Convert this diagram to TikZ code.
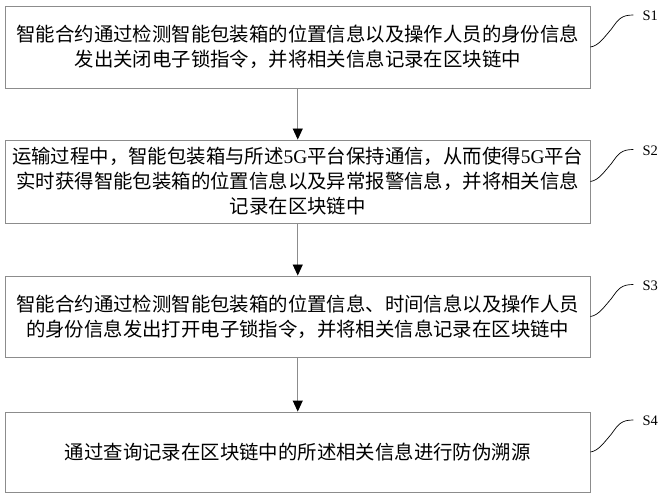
\documentclass[tikz,border=0pt]{standalone}
\usepackage{fontspec}
\newfontfamily\cjk{Noto Sans CJK SC}
\newfontfamily\lab{Liberation Serif}
\usetikzlibrary{arrows.meta}
\definecolor{boxgray}{RGB}{140,140,140}
\newcommand{\fiveg}{{\lab 5G}}
\tikzset{
  stepbox/.style={draw=boxgray, line width=0.9pt, minimum width=584.5pt, align=center,
    font=\cjk\fontsize{19.4pt}{25pt}\selectfont, inner sep=0pt, text=black},
  flow/.style={draw=boxgray, line width=0.9pt, -{Triangle[length=11pt,width=10pt,color=black]}},
  leader/.style={draw=black, line width=0.7pt},
  steplabel/.style={font=\lab\fontsize{14.5pt}{16pt}\selectfont, anchor=west, inner sep=0pt}
}
\begin{document}
\begin{tikzpicture}[x=1pt,y=-1pt]
\useasboundingbox (0,0) rectangle (665,500);
\node[stepbox, minimum height=82pt] (b1) at (297.75,47) {智能合约通过检测智能包装箱的位置信息以及操作人员的身份信息\\发出关闭电子锁指令，并将相关信息记录在区块链中};
\node[stepbox, minimum height=83pt] (b2) at (297.75,181.5) {运输过程中，智能包装箱与所述\fiveg 平台保持通信，从而使得\fiveg 平台\\实时获得智能包装箱的位置信息以及异常报警信息，并将相关信息\\记录在区块链中};
\node[stepbox, minimum height=81pt] (b3) at (297.75,316.5) {智能合约通过检测智能包装箱的位置信息、时间信息以及操作人员\\的身份信息发出打开电子锁指令，并将相关信息记录在区块链中};
\node[stepbox, minimum height=80pt] (b4) at (297.75,452) {通过查询记录在区块链中的所述相关信息进行防伪溯源};
\draw[flow] (b1.south) -- (b2.north);
\draw[flow] (b2.south) -- (b3.north);
\draw[flow] (b3.south) -- (b4.north);
\foreach \b/\s in {b1/S1,b2/S2,b3/S3,b4/S4}{
  \coordinate (\b e) at ([xshift=43pt,yshift=32pt]\b.east);
  \node[steplabel] (\b l) at ([xshift=52pt,yshift=31pt]\b.east) {\s};
  \draw[leader] (\b.east) .. controls ([xshift=8pt,yshift=1pt]\b.east) and ([xshift=14pt,yshift=10pt]\b.east) .. ([xshift=21pt,yshift=18pt]\b.east)
     .. controls ([xshift=28pt,yshift=28pt]\b.east) and ([xshift=31pt,yshift=32pt]\b.east) .. (\b e);
}
\end{tikzpicture}
\end{document}
